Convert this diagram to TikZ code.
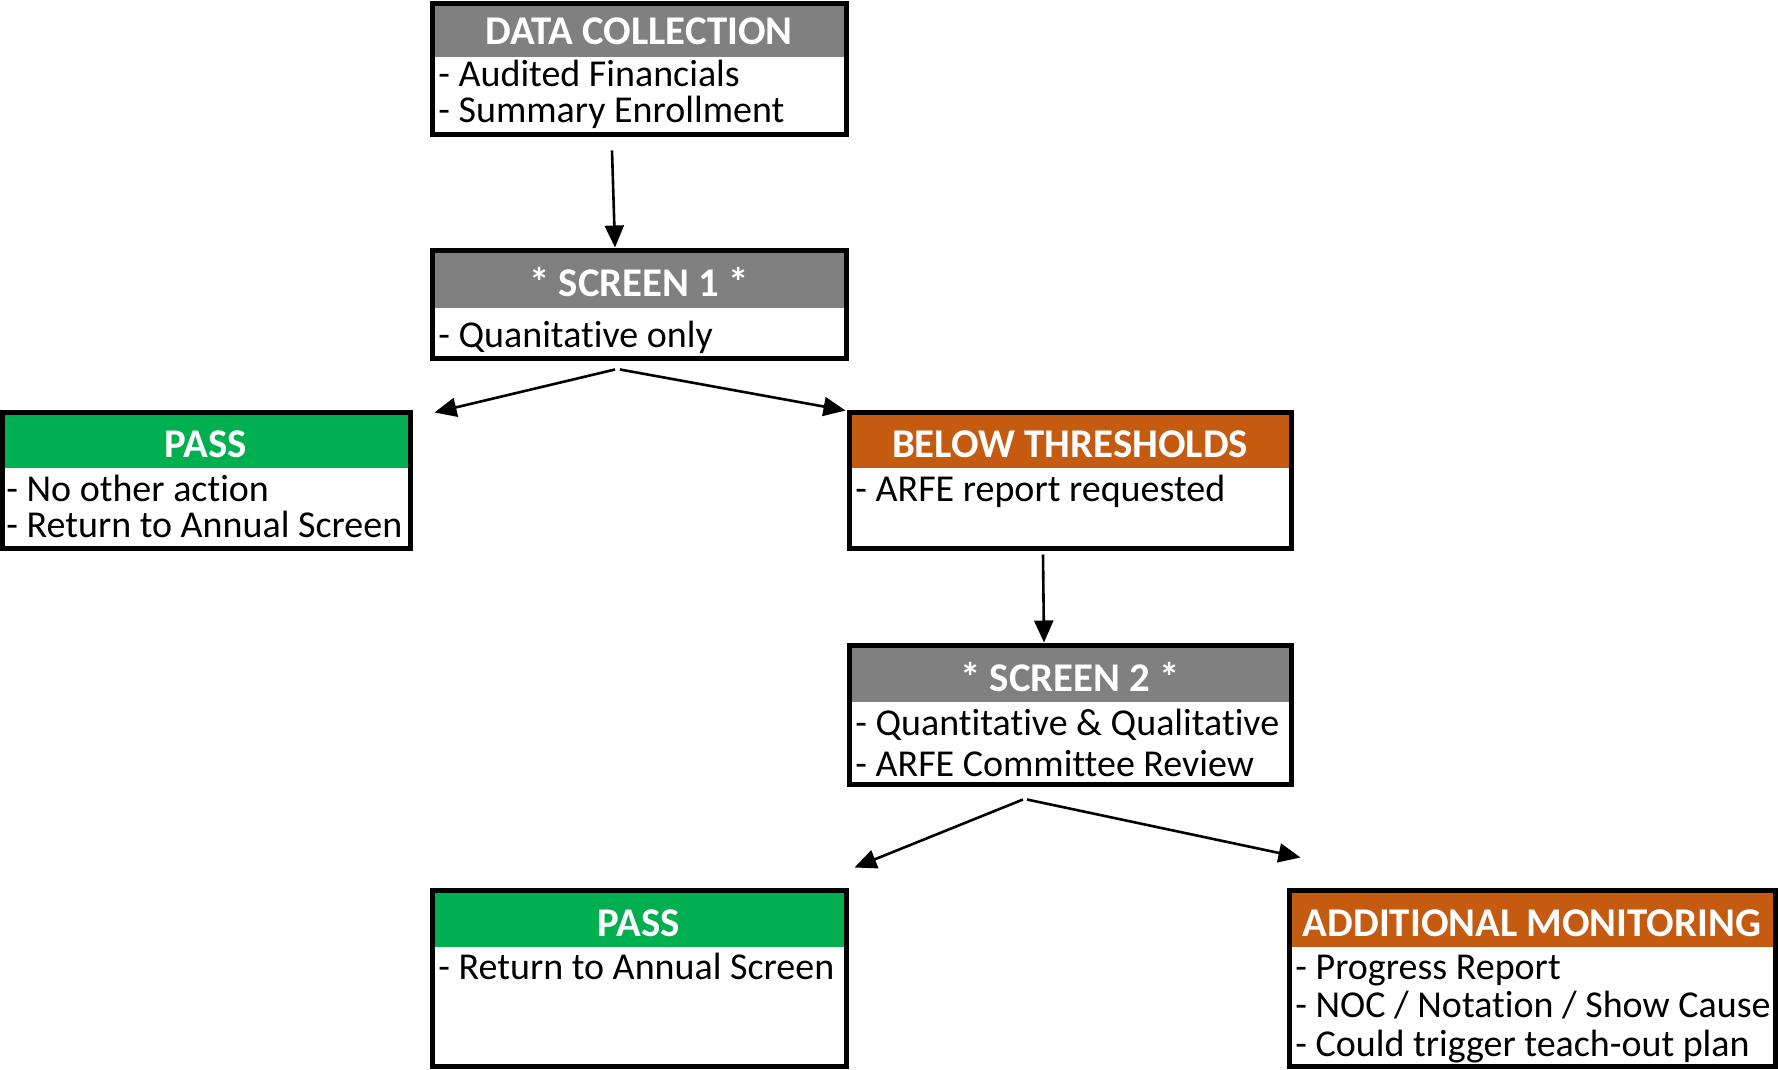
\documentclass[tikz,border=0pt]{standalone}
\usepackage{fontspec}
\setmainfont[Ligatures=NoCommon]{Carlito}
\usetikzlibrary{arrows.meta,calc,fit}
\definecolor{hgray}{HTML}{808080}
\definecolor{hgreen}{HTML}{00B050}
\definecolor{horange}{HTML}{C55A11}
\tikzset{
  box/.style={draw=black, line width=2.5pt, inner sep=0pt},
  head/.style={text=white, font=\fontsize{20.4pt}{24pt}\selectfont\bfseries, inner sep=0pt, yshift=-0.5pt},
  body/.style={anchor=west, text=black, font=\fontsize{19pt}{23pt}\selectfont, inner sep=0pt, text height=13pt, text depth=3pt, yshift=-1.5pt},
  arr/.style={line width=1.3pt, -{Triangle[length=11pt,width=9.5pt]}}
}
\begin{document}
\begin{tikzpicture}[x=0.5pt,y=-0.5pt]
\useasboundingbox (0,0) rectangle (1778,1070);
% DATA COLLECTION
\fill[hgray] (432,4) rectangle (846,57);
\node[box, fit={(432,4) (846,135)}] (dc) {};
\node[head] (dch) at (639,30) {DATA COLLECTION};
\node[body] (dcb1) at (438,74) {- Audited Financials};
\node[body] (dcb2) at (438,110) {- Summary Enrollment};
% SCREEN 1
\fill[hgray] (432,250) rectangle (846,308);
\node[box, fit={(432,250) (846,358)}] (s1) {};
\node[head] (s1h) at (639,281) {* SCREEN 1 *};
\node[body] (s1b1) at (438,334) {- Quanitative only};
% PASS 1
\fill[hgreen] (2,412) rectangle (410,468);
\node[box, fit={(2,412) (410,548)}] (p1) {};
\node[head] (p1h) at (206,443) {PASS};
\node[body] (p1b1) at (6,488) {- No other action};
\node[body] (p1b2) at (6,524) {- Return to Annual Screen};
% BELOW THRESHOLDS
\fill[horange] (849,412) rectangle (1291,468);
\node[box, fit={(849,412) (1291,548)}] (bt) {};
\node[head] (bth) at (1070,443) {BELOW THRESHOLDS};
\node[body] (btb1) at (855,488) {- ARFE report requested};
% SCREEN 2
\fill[hgray] (849,645) rectangle (1291,702);
\node[box, fit={(849,645) (1291,784)}] (s2) {};
\node[head] (s2h) at (1070,676) {* SCREEN 2 *};
\node[body] (s2b1) at (855,722) {- Quantitative \& Qualitative};
\node[body] (s2b2) at (855,763) {- ARFE Committee Review};
% PASS 2
\fill[hgreen] (432,890) rectangle (846,947);
\node[box, fit={(432,890) (846,1066)}] (p2) {};
\node[head] (p2h) at (639,922) {PASS};
\node[body] (p2b1) at (438,966) {- Return to Annual Screen};
% ADDITIONAL MONITORING
\fill[horange] (1289,890) rectangle (1775,947);
\node[box, fit={(1289,890) (1775,1066)}] (am) {};
\node[head] (amh) at (1532,922) {ADDITIONAL MONITORING};
\node[body] (amb1) at (1295,966) {- Progress Report};
\node[body] (amb2) at (1295,1004) {- NOC / Notation / Show Cause};
\node[body] (amb3) at (1295,1043) {- Could trigger teach-out plan};
% connectors
\draw[arr] ($(dc.south)+(-27,13)$) -- ($(s1.north)+(-24,0)$);
\draw[arr] ($(s1.south)+(-24,9)$) -- ($(p1.north east)+(22,3)$);
\draw[arr] ($(s1.south)+(-19,9)$) -- ($(bt.north west)+(-1,1)$);
\draw[arr] ($(bt.south)+(-27,4)$) -- ($(s2.north)+(-26,0)$);
\draw[arr] ($(s2.south)+(-47,13)$) -- ($(p2.north east)+(6,-20)$);
\draw[arr] ($(s2.south)+(-43,13)$) -- ($(am.north west)+(14,-30)$);
\end{tikzpicture}
\end{document}
